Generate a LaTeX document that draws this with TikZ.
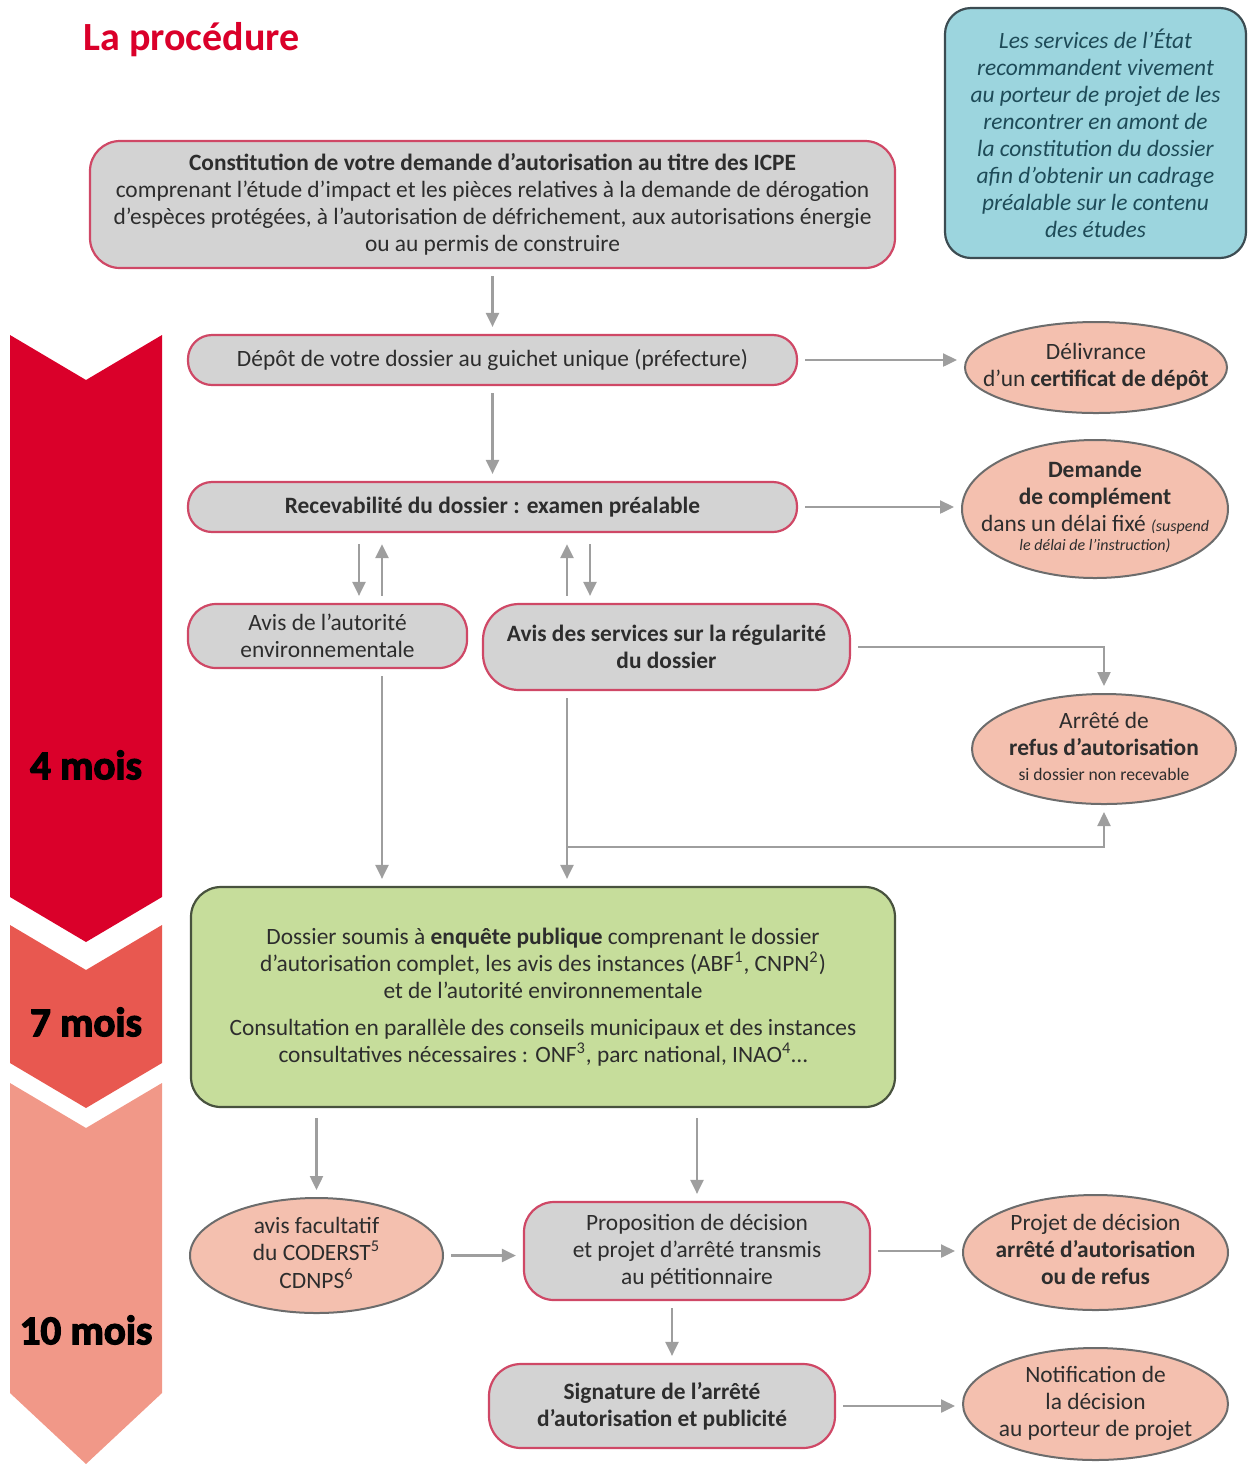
\documentclass[tikz,border=0pt]{standalone}
\usepackage{fontspec}
\setmainfont{Carlito}
\newfontfamily\heavyfont{Carlito Bold}[FakeBold=3]
\usepackage{xcolor}
\usetikzlibrary{arrows.meta, positioning, shapes.geometric}

\definecolor{procred}{RGB}{218,0,42}
\definecolor{chevmid}{RGB}{232,88,80}
\definecolor{chevlight}{RGB}{241,152,136}
\definecolor{boxgray}{RGB}{211,211,211}
\definecolor{boxline}{RGB}{207,72,102}
\definecolor{ellfill}{RGB}{244,192,175}
\definecolor{ellline}{RGB}{108,108,108}
\definecolor{greenfill}{RGB}{198,221,155}
\definecolor{greenline}{RGB}{72,82,62}
\definecolor{bluefill}{RGB}{156,213,222}
\definecolor{blueline}{RGB}{60,76,82}
\definecolor{bluetext}{RGB}{30,75,88}
\definecolor{arrowgray}{RGB}{158,158,158}
\definecolor{textgray}{RGB}{45,45,45}

\newcommand{\bodyfont}{\fontsize{11.7}{13.5}\selectfont}
\newcommand{\ovaltext}[1]{\smash{\raisebox{-.25em}{\makebox[0pt]{\begin{tabular}{@{}c@{}}#1\end{tabular}}}}}

\begin{document}
\begin{tikzpicture}[
    x=0.5pt, y=-0.5pt,
    every node/.style={text=textgray, font=\bodyfont},
    box/.style={
        rectangle,
        draw=boxline,
        line width=1.1pt,
        fill=boxgray,
        rounded corners=12pt,
        align=center,
        inner sep=0pt
    },
    oval/.style={
        ellipse,
        draw=ellline,
        line width=1pt,
        fill=ellfill,
        inner sep=0pt
    },
    flow/.style={
        draw=arrowgray,
        line width=1.2pt,
        -{Triangle[length=7pt,width=6.5pt]},
        shorten <=3.5pt,
        shorten >=3.5pt
    },
    period/.style={font=\heavyfont\fontsize{20.5}{24}\selectfont, text=black}
]
\useasboundingbox (0,0) rectangle (1248,1464);

\fill[procred] (10,335) -- (86,380) -- (162,335) -- (162,897) -- (86,942) -- (10,897) -- cycle;
\fill[chevmid] (10,925) -- (86,970) -- (162,925) -- (162,1063) -- (86,1108) -- (10,1063) -- cycle;
\fill[chevlight] (10,1083) -- (86,1128) -- (162,1083) -- (162,1393) -- (86,1464) -- (10,1393) -- cycle;

\node[period] (four) at (86,765) {4 mois};
\node[period] (seven) at (86,1022) {7 mois};
\node[period] (ten) at (86,1330) {10 mois};

\node[font=\bfseries\fontsize{20}{24}\selectfont, text=procred, anchor=west, inner sep=0pt] (title) at (83,40) {La procédure};

\node[box, draw=blueline, fill=bluefill, rounded corners=13pt, minimum width=150.5pt, minimum height=125pt, text=bluetext, font=\itshape\bodyfont] (conseil) at (1095.5,133)
    {Les services de l’État\\recommandent vivement\\au porteur de projet de les\\rencontrer en amont de\\la constitution du dossier\\afin d’obtenir un cadrage\\préalable sur le contenu\\des études};

\node[box, rounded corners=15pt, minimum width=402.5pt, minimum height=63.5pt] (constit) at (492.5,204.5)
    {\textbf{Constitution de votre demande d’autorisation au titre des ICPE}\\comprenant l’étude d’impact et les pièces relatives à la demande de dérogation\\d’espèces protégées, à l’autorisation de défrichement, aux autorisations énergie\\ou au permis de construire};
\node[box, minimum width=304.5pt, minimum height=25pt] (depot) at (492.5,360) {Dépôt de votre dossier au guichet unique (préfecture)};
\node[box, minimum width=304.5pt, minimum height=25pt] (recev) at (492.5,507) {\textbf{Recevabilité du dossier : examen préalable}};
\node[box, rounded corners=14pt, minimum width=139.5pt, minimum height=32pt] (avisAE) at (327.5,636) {Avis de l’autorité\\environnementale};
\node[box, rounded corners=18pt, minimum width=183.5pt, minimum height=43pt] (avisSrv) at (666.5,647) {\textbf{Avis des services sur la régularité}\\\textbf{du dossier}};
\node[box, draw=greenline, fill=greenfill, rounded corners=15pt, minimum width=352pt, minimum height=110pt] (green) at (543,997)
    {Dossier soumis à \textbf{enquête publique} comprenant le dossier\\d’autorisation complet, les avis des instances (ABF\textsuperscript{1}, CNPN\textsuperscript{2})\\et de l’autorité environnementale\\[5pt]Consultation en parallèle des conseils municipaux et des instances\\consultatives nécessaires : ONF\textsuperscript{3}, parc national, INAO\textsuperscript{4}…};
\node[box, rounded corners=15pt, minimum width=173pt, minimum height=49pt] (propos) at (697,1251) {Proposition de décision\\et projet d’arrêté transmis\\au pétitionnaire};
\node[box, rounded corners=16pt, minimum width=173pt, minimum height=42pt] (signat) at (662,1406) {\textbf{Signature de l’arrêté}\\\textbf{d’autorisation et publicité}};

\node[oval, minimum width=131pt, minimum height=45.5pt] (delivr) at (1096,367.5) {\ovaltext{Délivrance\\d’un \textbf{certificat de dépôt}}};
\node[oval, minimum width=133pt, minimum height=69pt] (demande) at (1095,509) {\ovaltext{\textbf{Demande}\\\textbf{de complément}\\dans un délai fixé {\itshape\fontsize{8}{9}\selectfont(suspend}\\[-4pt]{\itshape\fontsize{8}{9}\selectfont le délai de l’instruction)}}};
\node[oval, minimum width=132pt, minimum height=55pt] (refus) at (1104,749) {\ovaltext{Arrêté de\\\textbf{refus d’autorisation}\\[-1pt]{\fontsize{8.8}{10}\selectfont si dossier non recevable}}};
\node[oval, minimum width=126.5pt, minimum height=57.5pt] (avisFac) at (316.5,1255.5) {\ovaltext{avis facultatif\\du CODERST\textsuperscript{5}\\CDNPS\textsuperscript{6}}};
\node[oval, minimum width=132.5pt, minimum height=57.5pt] (projet) at (1095.5,1252.5) {\ovaltext{Projet de décision\\\textbf{arrêté d’autorisation}\\\textbf{ou de refus}}};
\node[oval, minimum width=132.5pt, minimum height=56pt] (notif) at (1095.5,1404) {\ovaltext{Notification de\\la décision\\au porteur de projet}};

\coordinate (aeDown) at ([xshift=15.75pt]avisAE.north);
\coordinate (aeUp) at ([xshift=27.25pt]avisAE.north);
\coordinate (srvUp) at ([xshift=-49.75pt]avisSrv.north);
\coordinate (srvDown) at ([xshift=-38.25pt]avisSrv.north);
\coordinate (split) at (srvUp |- 0,847);
\coordinate (proDown) at ([xshift=-12.5pt]propos.south);

\draw[flow] (constit) -- (depot);
\draw[flow] (depot.east) -- (depot.east -| delivr.west);
\draw[flow] (depot) -- (recev);
\draw[flow] (recev.east) -- (recev.east -| demande.west);
\draw[flow, shorten <=5.5pt] (aeDown |- recev.south) -- (aeDown);
\draw[flow, shorten >=5.5pt] (aeUp) -- (aeUp |- recev.south);
\draw[flow, shorten >=5.5pt] (srvUp) -- (srvUp |- recev.south);
\draw[flow, shorten <=5.5pt] (srvDown |- recev.south) -- (srvDown);
\draw[flow] (avisSrv.east) -- (avisSrv.east -| refus.north) -- (refus.north);
\draw[flow] (aeUp |- avisAE.south) -- (aeUp |- green.north);
\draw[flow] (srvUp |- avisSrv.south) -- (srvUp |- green.north);
\draw[flow, shorten <=0pt] (split) -- (split -| refus.south) -- (refus.south);
\draw[flow, shorten <=5pt] (green.south -| avisFac.north) -- (avisFac.north);
\draw[flow, shorten <=5pt] (green.south -| propos.north) -- (propos.north);
\draw[flow] (avisFac.east) -- (avisFac.east -| propos.west);
\draw[flow] (propos.east) -- (propos.east -| projet.west);
\draw[flow] (proDown) -- (proDown |- signat.north);
\draw[flow] (signat.east) -- (signat.east -| notif.west);

\end{tikzpicture}
\end{document}
